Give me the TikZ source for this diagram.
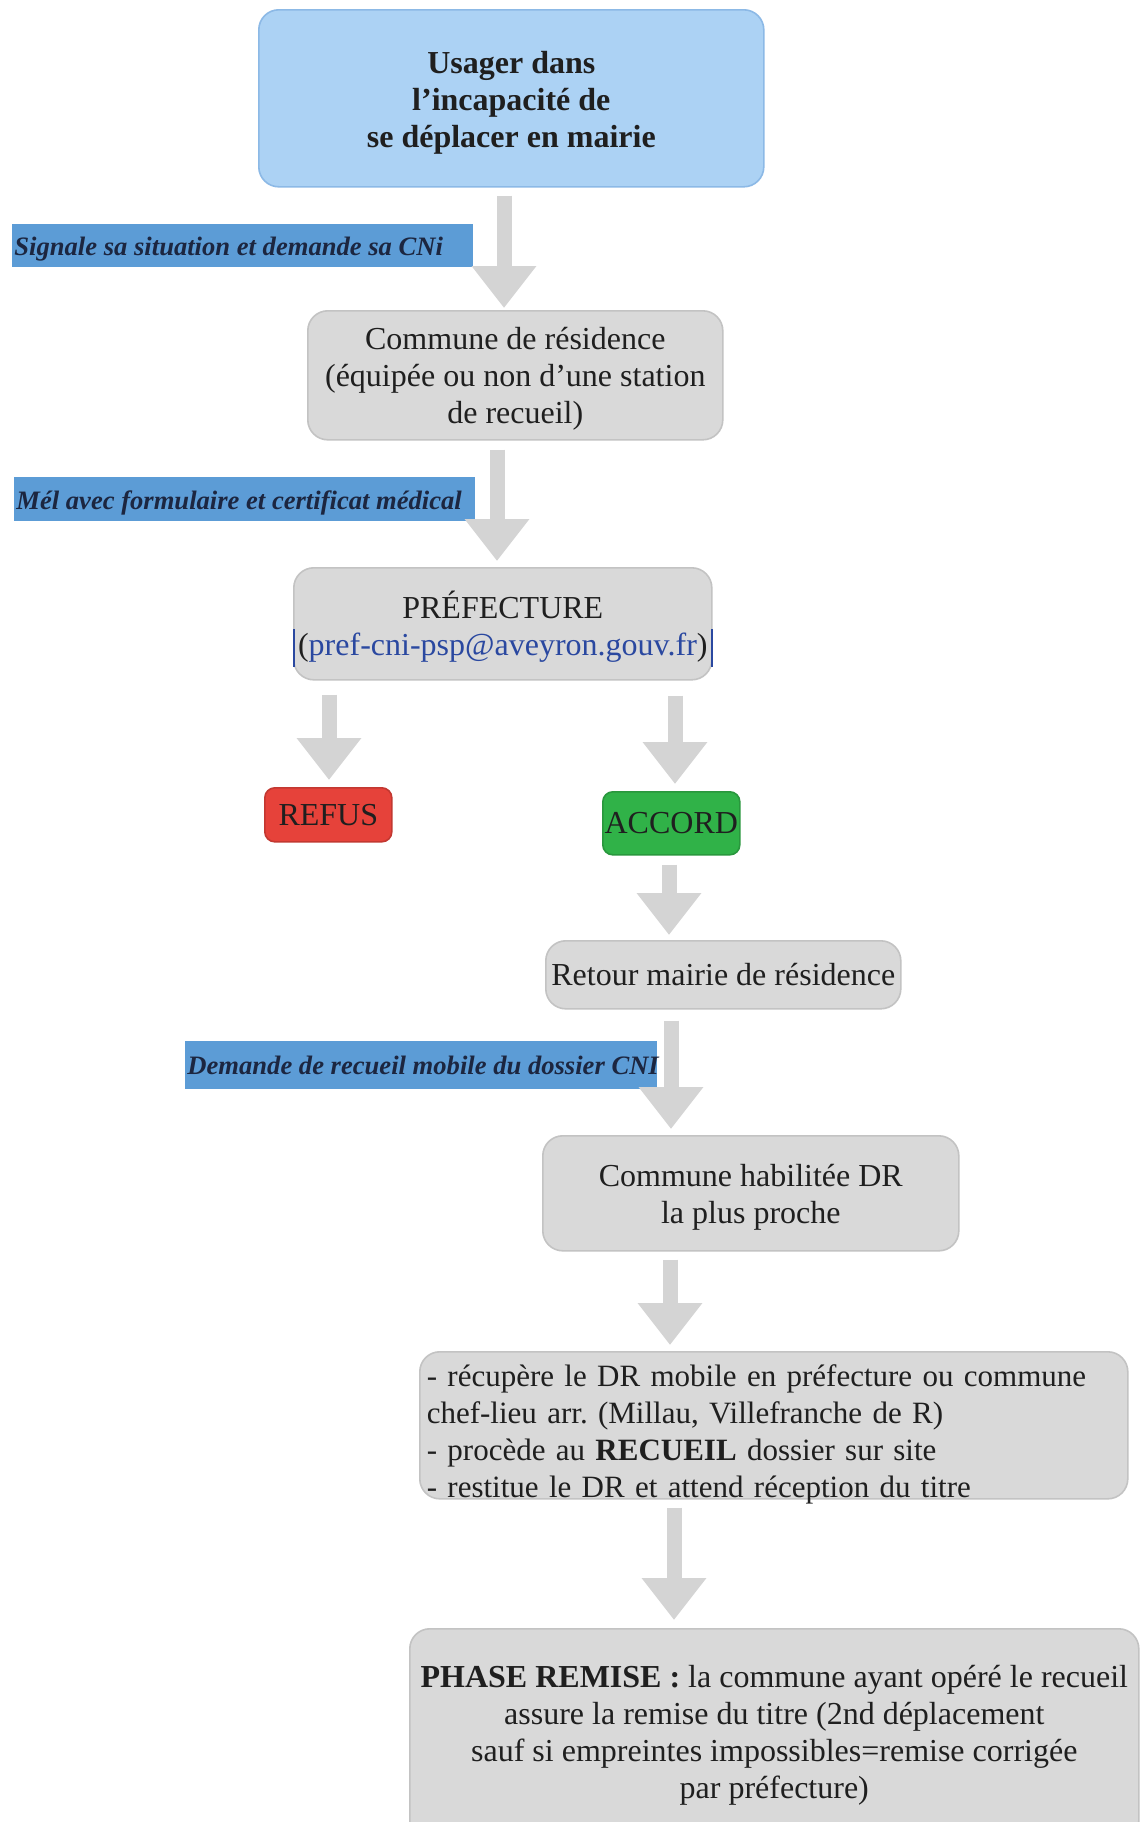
\documentclass[tikz,border=0pt]{standalone}
\usepackage{fontspec}
\setmainfont{Liberation Serif}
\frenchspacing
\usetikzlibrary{arrows.meta}
\definecolor{titlefill}{RGB}{172,210,244}
\definecolor{titleline}{RGB}{140,185,230}
\definecolor{boxfill}{RGB}{217,217,217}
\definecolor{boxline}{RGB}{195,195,195}
\definecolor{lblfill}{RGB}{92,156,214}
\definecolor{lbltext}{RGB}{28,38,64}
\definecolor{refusred}{RGB}{230,66,58}
\definecolor{accordgreen}{RGB}{48,178,72}
\definecolor{mailblue}{RGB}{42,72,160}
\definecolor{arrowgray}{RGB}{212,212,212}
\begin{document}
\begin{tikzpicture}[x=0.5pt,y=-0.5pt,
  box/.style={draw=boxline, fill=boxfill, line width=0.8pt, rounded corners=10pt,
    align=center, inner sep=0pt, anchor=north west, text=black!88,
    font=\fontsize{16}{18.5}\selectfont},
  titlebox/.style={box, draw=titleline, fill=titlefill, font=\fontsize{16}{18.5}\selectfont\bfseries},
  lbl/.style={fill=lblfill, anchor=north west, inner xsep=1pt, inner ysep=0pt, text=lbltext,
    font=\fontsize{13.3}{16}\selectfont\bfseries\itshape},
  blk/.style={draw=arrowgray, line width=7.5pt, -{Triangle[width=31pt,length=21pt]}}
]
\clip (0,0) rectangle (1144,1822);
\fill[white] (0,0) rectangle (1144,1822);

% boxes
\node[titlebox, minimum width=252.5pt, minimum height=88.5pt] (b1) at (258,9)
  {\rule{0pt}{15.5pt}Usager dans\\ l’incapacité de\\ se déplacer en mairie};
\node[box, minimum width=207.5pt, minimum height=64.5pt] (b2) at (307,310)
  {\rule{0pt}{14.4pt}Commune de résidence\\ (équipée ou non d’une station\\ de recueil)};
\node[box, minimum width=209pt, minimum height=56pt] (b3) at (293,567)
  {\rule{0pt}{16.5pt}PRÉFECTURE\\ (\textcolor{mailblue}{pref-cni-psp@aveyron.gouv.fr})};
\node[box, draw=refusred!85!black, fill=refusred, rounded corners=5pt, minimum width=63.5pt, minimum height=27pt] (refus) at (264,787)
  {REFUS};
\node[box, draw=accordgreen!85!black, fill=accordgreen, rounded corners=5pt, minimum width=68.5pt, minimum height=31.5pt] (accord) at (602,791)
  {ACCORD};
\node[box, minimum width=177.5pt, minimum height=34pt] (retour) at (545,940)
  {Retour mairie de résidence};
\node[box, minimum width=208pt, minimum height=57.5pt] (hab) at (542,1135)
  {\rule{0pt}{15.5pt}Commune habilitée DR\\ la plus proche};
\node[box, align=left, text width=347pt, inner xsep=3.5pt, minimum height=73.5pt,
  font=\fontsize{15.5}{18.5}\selectfont] (liste) at (419,1351)
  {\rule{0pt}{16.4pt}- récupère le DR mobile en préfecture ou commune\\ chef-lieu arr. (Millau, Villefranche de R)\\ - procède au \textbf{RECUEIL} dossier sur site\\ \raisebox{0pt}[\height][0pt]{- restitue le DR et attend réception du titre}};
\node[box, minimum width=364.5pt, minimum height=106pt] (phase) at (409,1628)
  {\textbf{PHASE REMISE :} la commune ayant opéré le recueil\\ assure la remise du titre (2nd déplacement\\ sauf si empreintes impossibles=remise corrigée\\ par préfecture)};

% blue marks beside the e-mail line
\draw[mailblue, line width=1pt] (b3.south west) ++(1,-14) -- ++(0,-38);
\draw[mailblue, line width=1pt] (b3.south east) ++(-1,-14) -- ++(0,-38);

% labels
\node[lbl, minimum height=21.5pt, text height=13pt, text depth=3pt] (l1) at (12,224)
  {\makebox[228.5pt][l]{Signale sa situation et demande sa CNi}};
\node[lbl, minimum height=22pt, text height=13pt, text depth=3pt] (l2) at (14,477)
  {\makebox[228.5pt][l]{Mél avec formulaire et certificat médical}};
\node[lbl, minimum height=24pt] (l3) at (185,1041)
  {\makebox[234pt][l]{Demande de recueil mobile du dossier CNI}};

% columns of the arrows
\coordinate (cA) at (504,0);
\coordinate (cB) at (497,0);
\coordinate (cR) at (329,0);
\coordinate (cC) at (675,0);
\coordinate (cD) at (669,0);
\coordinate (cE) at (671,0);
\coordinate (cF) at (670,0);
\coordinate (cG) at (674,0);

% arrows
\draw[blk, shorten <=4pt, shorten >=1pt] (b1.south -| cA) -- (b2.north -| cA);
\draw[blk, shorten <=4.5pt, shorten >=3pt] (b2.south -| cB) -- (b3.north -| cB);
\draw[blk, shorten <=7pt, shorten >=3.5pt] (b3.south -| cR) -- (refus.north -| cR);
\draw[blk, shorten <=7.5pt, shorten >=3.5pt] (b3.south -| cC) -- (accord.north -| cC);
\draw[blk, shorten <=4.5pt, shorten >=2.5pt] (accord.south -| cD) -- (retour.north -| cD);
\draw[blk, shorten <=5.5pt, shorten >=3pt] (retour.south -| cE) -- (hab.north -| cE);
\draw[blk, shorten <=4pt, shorten >=3pt] (hab.south -| cF) -- (liste.north -| cF);
\draw[blk, shorten <=4pt, shorten >=4pt] (liste.south -| cG) -- (phase.north -| cG);
\end{tikzpicture}
\end{document}
